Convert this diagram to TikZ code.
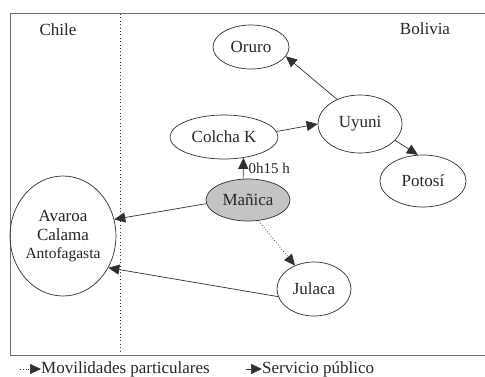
\documentclass[tikz,border=0pt]{standalone}
\usepackage{fontspec}
\setmainfont{Liberation Serif}
\usetikzlibrary{shapes.geometric,arrows.meta}
\definecolor{linec}{HTML}{303030}
\definecolor{framec}{HTML}{707070}
\definecolor{manfill}{HTML}{C4C4C4}
\begin{document}
\begin{tikzpicture}[x=1pt,y=-1pt,
  every node/.style={font=\fontsize{17}{20}\selectfont, text=black!85},
  place/.style={ellipse, draw=linec, line width=0.7pt, inner sep=0pt},
  arr/.style={draw=linec, line width=0.7pt, -{Triangle[length=11pt,width=10pt]}},
  dotarr/.style={arr, dash pattern=on 0.8pt off 2pt},
  frame/.style={draw=framec, line width=0.9pt}]
\useasboundingbox (0,0) rectangle (485,376);
\fill[white] (0,0) rectangle (485,376);
\draw[frame] (485,13) -- (10,13) -- (10,355) -- (485,355);
\draw[draw=linec, line width=0.8pt, dash pattern=on 0.8pt off 2.6pt] (120,14) -- (120,352);
\node (chile) at (58,30) {Chile};
\node (bolivia) at (425,29) {Bolivia};
\node[place, minimum width=76pt, minimum height=44pt] (o) at (251,47) {Oruro};
\node[place, minimum width=84pt, minimum height=58pt] (u) at (360,124) {Uyuni};
\node[place, minimum width=108pt, minimum height=44pt] (c) at (224,137) {Colcha K};
\node[place, minimum width=86pt, minimum height=52pt] (p) at (423,181) {Potos\'{\i}};
\node[place, fill=manfill, minimum width=84pt, minimum height=42pt] (m) at (248,200) {Ma\~nica};
\node[place, minimum width=86pt, minimum height=120pt, align=center] (a) at (63,236) {Avaroa\\[-1pt]Calama\\[-2pt]{\fontsize{15.5}{18}\selectfont Antofagasta}};
\node[place, minimum width=74pt, minimum height=54pt] (j) at (314,289) {Julaca};
\draw[arr] (u.133) -- (o.-15);
\draw[arr] (c.6) -- (u.180);
\draw[arr] (u.-25) -- (p.101);
\draw[arr] (m.103) -- node[right, pos=0.5, inner sep=5pt, font=\fontsize{15}{18}\selectfont] {0h15 h} (c.-47);
\draw[arr] (m.185) -- (a.18);
\draw[arr] (j.192) -- (a.-35);
\draw[dotarr] (m.-63) -- (j.129);
\coordinate (l1a) at (20,369);
\coordinate (l1b) at (41,369);
\coordinate (l2a) at (246,369);
\coordinate (l2b) at (262,369);
\draw[dotarr] (l1a) -- (l1b);
\node[anchor=west, inner sep=0pt] (l1) at (l1b) {Movilidades particulares};
\draw[arr] (l2a) -- (l2b);
\node[anchor=west, inner sep=0pt] (l2) at (l2b) {Servicio p\'ublico};
\end{tikzpicture}
\end{document}
